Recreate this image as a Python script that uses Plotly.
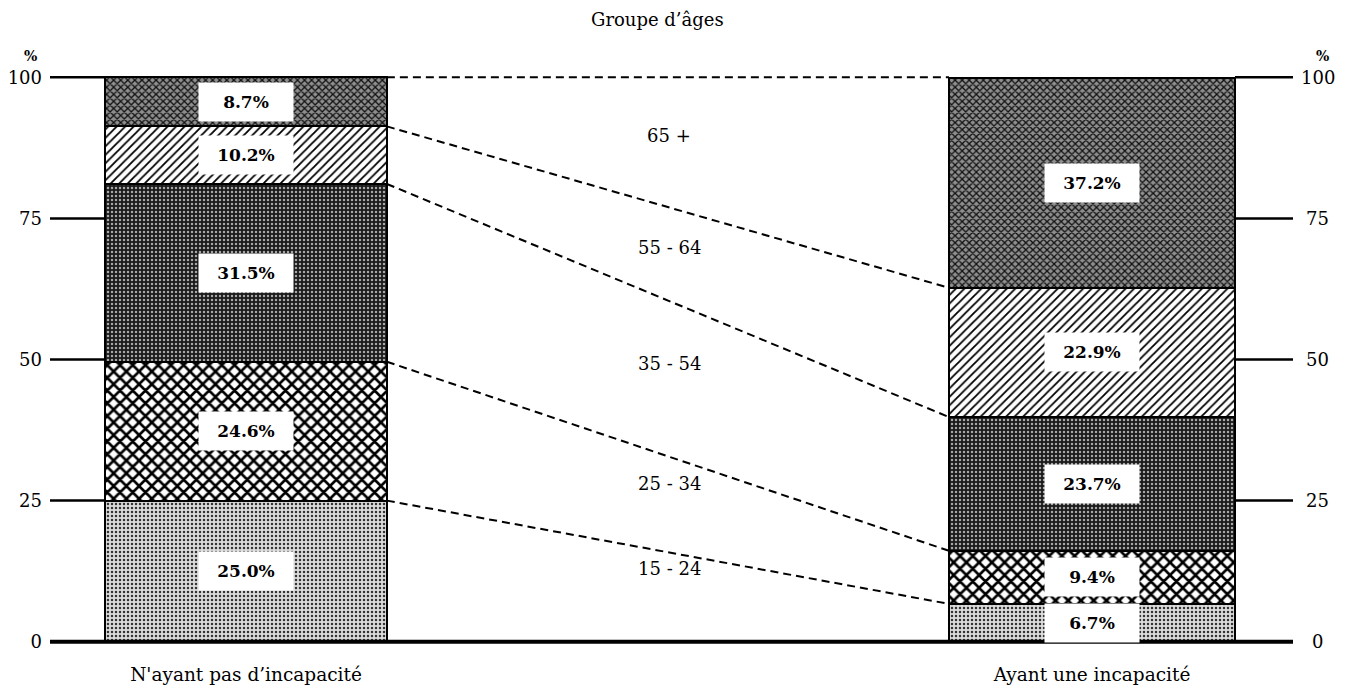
import numpy as np
import plotly.graph_objects as go

# ---- data ----
categories = ["N'ayant pas d’incapacité", "Ayant une incapacité"]
age_groups = ["15 - 24", "25 - 34", "35 - 54", "55 - 64", "65 +"]
no_disability = [25.0, 24.6, 31.5, 10.2, 8.7]
with_disability = [6.7, 9.4, 23.7, 22.9, 37.2]
y_ticks = [0, 25, 50, 75, 100]
title_text = "Groupe d’âges"

# ---- layout constants ----
FONT = "DejaVu Serif"
bar_widths = [0.333, 0.338]
age_label_y = [12.9, 28.0, 49.3, 69.9, 89.7]
x_range = [-0.23168, 1.23759]
y_range = [-2, 102]

patterns = [
    dict(shape=".", bgcolor="#dcdcdc", fgcolor="#333333", size=4, solidity=0.3, fgopacity=1),
    dict(shape="x", bgcolor="#ffffff", fgcolor="#000000", size=9, solidity=0.5, fgopacity=1),
    dict(shape=".", bgcolor="#1a1a1a", fgcolor="#a8a8a8", size=4, solidity=0.3, fgopacity=1),
    dict(shape="/", bgcolor="#ffffff", fgcolor="#000000", size=6, solidity=0.3, fgopacity=1),
    dict(shape="x", bgcolor="#8e8e8e", fgcolor="#111111", size=5, solidity=0.45, fgopacity=1),
]

fig = go.Figure()
xpos = [0, 1]
for i, grp in enumerate(age_groups):
    fig.add_trace(go.Bar(
        x=xpos, y=[no_disability[i], with_disability[i]], width=bar_widths,
        name=grp, showlegend=False, hoverinfo="skip",
        marker=dict(pattern=patterns[i], line=dict(color="black", width=2.5)),
    ))

# connecting dashed lines between cumulative boundaries
cum_left = np.cumsum(no_disability)
cum_right = np.cumsum(with_disability)
xl = xpos[0] + bar_widths[0] / 2
xr = xpos[1] - bar_widths[1] / 2
DASH = "8px,5px"
for a, b in zip(cum_left[:-1], cum_right[:-1]):
    fig.add_trace(go.Scatter(x=[xl, xr], y=[a, b], mode="lines", showlegend=False,
                             hoverinfo="skip", line=dict(color="black", width=2, dash=DASH)))
fig.add_trace(go.Scatter(x=[xl, xr], y=[100, 100], mode="lines", showlegend=False,
                         hoverinfo="skip", line=dict(color="black", width=2, dash=DASH)))

shapes = []
# tick lines on both sides
for t in y_ticks[1:]:
    shapes.append(dict(type="line", xref="x", yref="y", x0=x_range[0],
                       x1=xpos[0] - bar_widths[0] / 2, y0=t, y1=t,
                       line=dict(color="black", width=2.5)))
    shapes.append(dict(type="line", xref="x", yref="y", x0=xpos[1] + bar_widths[1] / 2,
                       x1=x_range[1], y0=t, y1=t, line=dict(color="black", width=2.5)))
# base line
shapes.append(dict(type="line", xref="x", yref="y", x0=x_range[0], x1=x_range[1],
                   y0=0, y1=0, line=dict(color="black", width=4)))

annotations = []
# percentage labels
for vals, cum, xp in [(no_disability, cum_left, xpos[0]), (with_disability, cum_right, xpos[1])]:
    for v, c in zip(vals, cum):
        annotations.append(dict(
            x=xp, y=c - v / 2, xref="x", yref="y", text=f"<b>{v:.1f}%</b>",
            showarrow=False, bgcolor="white", width=92, height=min(36, v * 5.6),
            font=dict(family=FONT, size=17, color="black"),
        ))
# age labels
for lab, yy in zip(age_groups, age_label_y):
    annotations.append(dict(x=0.5, y=yy, xref="x", yref="y", text=lab, showarrow=False,
                            font=dict(family=FONT, size=18, color="black")))
# right axis tick labels
for t in y_ticks:
    annotations.append(dict(x=1.0201, y=t, xref="paper", yref="y", text=str(t),
                            showarrow=False, xanchor="center", yanchor="middle",
                            font=dict(family=FONT, size=18, color="black")))
# % signs
annotations.append(dict(x=-0.0153, y=1.0170, xref="paper", yref="paper", text="<b>%</b>",
                        showarrow=False, xanchor="center", yanchor="middle",
                        font=dict(family=FONT, size=14, color="black")))
annotations.append(dict(x=1.0241, y=1.0170, xref="paper", yref="paper", text="<b>%</b>",
                        showarrow=False, xanchor="center", yanchor="middle",
                        font=dict(family=FONT, size=14, color="black")))
# title
annotations.append(dict(x=0.4891, y=1.0784, xref="paper", yref="paper", text=title_text,
                        showarrow=False, xanchor="center", yanchor="middle",
                        font=dict(family=FONT, size=18, color="black")))

fig.update_layout(
    width=1348, height=689, barmode="stack",
    margin=dict(l=50, r=55, t=66, b=36, autoexpand=False),
    plot_bgcolor="white", paper_bgcolor="white",
    font=dict(family=FONT, size=17, color="black"),
    xaxis=dict(range=x_range, tickvals=xpos, ticktext=categories, showgrid=False,
               zeroline=False, showline=False, ticks="", ticklabelstandoff=8,
               tickfont=dict(family=FONT, size=18.5), automargin=False),
    yaxis=dict(range=y_range, tickvals=y_ticks, showgrid=False, zeroline=False,
               showline=False, ticks="", ticklabelstandoff=7, automargin=False,
               tickfont=dict(family=FONT, size=18)),
    shapes=shapes, annotations=annotations, bargap=0,
)

fig.write_html("out.html", config={"displayModeBar": False},
               post_script="document.body.style.margin='0';")
